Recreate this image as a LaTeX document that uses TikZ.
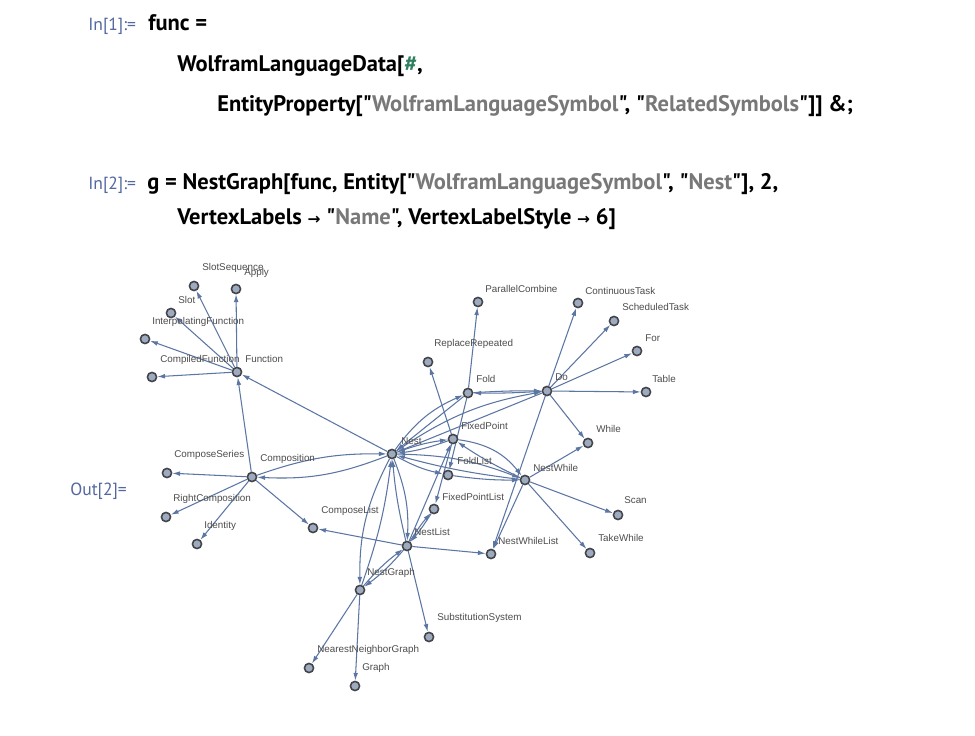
\documentclass[tikz,border=0pt]{standalone}
\usepackage{fontspec}
\setmainfont{Liberation Sans}
\newfontfamily\codefont{PT Sans}
\newfontfamily\arrowfont{DejaVu Sans}
\usetikzlibrary{arrows.meta}
\definecolor{relblue}{RGB}{92,118,164}
\definecolor{vxfill}{RGB}{158,170,190}
\definecolor{vxline}{RGB}{66,68,74}
\definecolor{strgray}{RGB}{120,120,120}
\definecolor{hashgreen}{RGB}{48,128,96}
\definecolor{promptblue}{RGB}{84,104,160}
\pgfdeclarelayer{bg}
\pgfdeclarelayer{edges}
\pgfsetlayers{bg,edges,main}

\begin{document}
\begin{tikzpicture}[x=0.25mm, y=-0.25mm,
  vx/.style={circle, fill=vxfill, draw=vxline, line width=1.1pt, inner sep=0pt, minimum size=2.3mm},
  lbl/.style={anchor=mid west, inner sep=0pt, font=\fontsize{7}{8}\selectfont, text=black!70},
  rel/.style={draw=relblue, line width=0.75pt, -{Latex[length=5.5pt,width=3.4pt]}},
  code/.style={anchor=base west, inner sep=0pt, font=\codefont\bfseries\fontsize{16}{18}\selectfont},
  prompt/.style={anchor=base west, inner sep=0pt, text=promptblue, font=\codefont\fontsize{12.5}{14}\selectfont}]
\begin{pgfonlayer}{bg}
\fill[white] (0,0) rectangle (975,736);
\end{pgfonlayer}
\useasboundingbox (0,0) rectangle (975,736);
% input cells
\node[prompt] (in1) at (88,31) {In[1]:=}; \node[code] (c1) at (148,31) {func =};
\node[code] (c2) at (177,72) {WolframLanguageData[\textcolor{hashgreen}{\#},};
\node[code] (c3) at (217,112) {EntityProperty["\textcolor{strgray}{WolframLanguageSymbol}", "\textcolor{strgray}{RelatedSymbols}"]] \&;};
\node[prompt] (in2) at (88,190) {In[2]:=}; \node[code] (c4) at (147,190) {g = NestGraph[func,\ Entity["\textcolor{strgray}{WolframLanguageSymbol}",\ "\textcolor{strgray}{Nest}"],\ 2,};
\node[code] (c5) at (177,225) {VertexLabels {\arrowfont\fontsize{11}{12}\selectfont→} "\textcolor{strgray}{Name}",\ VertexLabelStyle {\arrowfont\fontsize{11}{12}\selectfont→} 6]};
\node[prompt] (out2) at (70,495) {Out[2]=};
% vertices of the graph, each with its name
\node[vx] (slotseq) at (194,286) {}; \node[lbl] (slotseq-l) at (202,267) {SlotSequence};
\node[vx] (apply) at (236,289) {}; \node[lbl] (apply-l) at (244,272) {Apply};
\node[vx] (slot) at (171,313) {}; \node[lbl] (slot-l) at (178,300) {Slot};
\node[vx] (interp) at (145,339) {}; \node[lbl] (interp-l) at (152,321) {InterpolatingFunction};
\node[vx] (compiled) at (152,377) {}; \node[lbl] (compiled-l) at (160,359) {CompiledFunction};
\node[vx] (fn) at (237,372) {}; \node[lbl] (fn-l) at (245,359) {Function};
\node[vx] (comp) at (252,477) {}; \node[lbl] (comp-l) at (260,458) {Composition};
\node[vx] (cseries) at (167,473) {}; \node[lbl] (cseries-l) at (174,454) {ComposeSeries};
\node[vx] (rcomp) at (166,517) {}; \node[lbl] (rcomp-l) at (173,498) {RightComposition};
\node[vx] (ident) at (197,544) {}; \node[lbl] (ident-l) at (204,525) {Identity};
\node[vx] (clist) at (313,528) {}; \node[lbl] (clist-l) at (321,510) {ComposeList};
\node[vx] (nest) at (392,454) {}; \node[lbl] (nest-l) at (401,441) {Nest};
\node[vx] (fixp) at (453,439) {}; \node[lbl] (fixp-l) at (461,426) {FixedPoint};
\node[vx] (fold) at (468,393) {}; \node[lbl] (fold-l) at (476,379) {Fold};
\node[vx] (do) at (547,391) {}; \node[lbl] (do-l) at (555,377) {Do};
\node[vx] (foldl) at (448,475) {}; \node[lbl] (foldl-l) at (457,461) {FoldList};
\node[vx] (nwhile) at (525,480) {}; \node[lbl] (nwhile-l) at (533,468) {NestWhile};
\node[vx] (fixpl) at (434,509) {}; \node[lbl] (fixpl-l) at (442,497) {FixedPointList};
\node[vx] (nlist) at (407,546) {}; \node[lbl] (nlist-l) at (414,532) {NestList};
\node[vx] (nwlist) at (491,554) {}; \node[lbl] (nwlist-l) at (498,541) {NestWhileList};
\node[vx] (ngraph) at (360,590) {}; \node[lbl] (ngraph-l) at (367,572) {NestGraph};
\node[vx] (parc) at (478,302) {}; \node[lbl] (parc-l) at (485,289) {ParallelCombine};
\node[vx] (ctask) at (578,303) {}; \node[lbl] (ctask-l) at (585,291) {ContinuousTask};
\node[vx] (stask) at (614,321) {}; \node[lbl] (stask-l) at (622,307) {ScheduledTask};
\node[vx] (for) at (637,351) {}; \node[lbl] (for-l) at (645,338) {For};
\node[vx] (table) at (646,392) {}; \node[lbl] (table-l) at (652,379) {Table};
\node[vx] (repl) at (428,362) {}; \node[lbl] (repl-l) at (434,343) {ReplaceRepeated};
\node[vx] (while) at (588,443) {}; \node[lbl] (while-l) at (596,429) {While};
\node[vx] (scan) at (618,515) {}; \node[lbl] (scan-l) at (624,500) {Scan};
\node[vx] (takew) at (590,553) {}; \node[lbl] (takew-l) at (598,538) {TakeWhile};
\node[vx] (subst) at (429,637) {}; \node[lbl] (subst-l) at (437,617) {SubstitutionSystem};
\node[vx] (nng) at (309,668) {}; \node[lbl] (nng-l) at (317,649) {NearestNeighborGraph};
\node[vx] (graph) at (355,686) {}; \node[lbl] (graph-l) at (362,667) {Graph};
\begin{pgfonlayer}{edges}
% Function and Composition
\draw[rel] (fn) -- (slotseq); \draw[rel] (fn) -- (apply); \draw[rel] (fn) -- (slot); \draw[rel] (fn) -- (interp); \draw[rel] (fn) -- (compiled);
\draw[rel] (nest) -- (fn); \draw[rel] (comp) -- (fn);
\draw[rel] (comp) -- (cseries); \draw[rel] (comp) -- (rcomp); \draw[rel] (comp) -- (ident); \draw[rel] (comp) -- (clist);
\draw[rel] (nest) to[bend left=12] (comp); \draw[rel] (comp) to[bend left=10] (nest);
% Fold and Do
\draw[rel] (fold) -- (parc); \draw[rel] (fixp) -- (repl);
\draw[rel] (do) -- (ctask); \draw[rel] (do) -- (stask); \draw[rel] (do) -- (for); \draw[rel] (do) -- (table);
\draw[rel] (do) -- (while); \draw[rel] (do) -- (nwlist);
\draw[rel] (do) to[bend left=2] (fold); \draw[rel] (fold) to[bend left=2] (do);
\draw[rel] (nest) to[bend left=15] (fold); \draw[rel] (fold) -- (nest); \draw[rel] (fold) -- (foldl);
\draw[rel] (nest) to[bend left=12] (do); \draw[rel] (do) -- (nest);
% around Nest
\draw[rel] (nest) to[bend left=6] (fixp); \draw[rel] (fixp) to[bend left=6] (nest);
\draw[rel] (nest) to[bend left=10] (nwhile); \draw[rel] (nwhile) to[bend left=4] (nest);
\draw[rel] (fixp) to[bend left=22] (nwhile); \draw[rel] (nwhile) to[bend left=4] (fixp);
\draw[rel] (nest) to[bend right=8] (foldl); \draw[rel] (foldl) to[bend right=4] (nwhile);
\draw[rel] (nwhile) -- (while); \draw[rel] (nwhile) -- (scan); \draw[rel] (nwhile) -- (takew); \draw[rel] (nwhile) -- (nwlist);
\draw[rel] (nlist) to[bend left=4] (fixpl); \draw[rel] (fixpl) to[bend left=4] (nlist); \draw[rel] (fixp) -- (fixpl); \draw[rel] (nlist) -- (fixp);
% NestList and NestGraph
\draw[rel] (nlist) -- (clist); \draw[rel] (nlist) -- (nwlist); \draw[rel] (nlist) -- (subst);
\draw[rel] (nest) to[bend left=12] (nlist); \draw[rel] (nlist) to[bend left=4] (nest);
\draw[rel] (nest) to[bend right=14] (ngraph); \draw[rel] (ngraph) to[bend right=6] (nest);
\draw[rel] (nlist) to[bend left=6] (ngraph); \draw[rel] (ngraph) to[bend left=6] (nlist);
\draw[rel] (ngraph) -- (nng); \draw[rel] (ngraph) -- (graph);
\end{pgfonlayer}
\end{tikzpicture}
\end{document}
